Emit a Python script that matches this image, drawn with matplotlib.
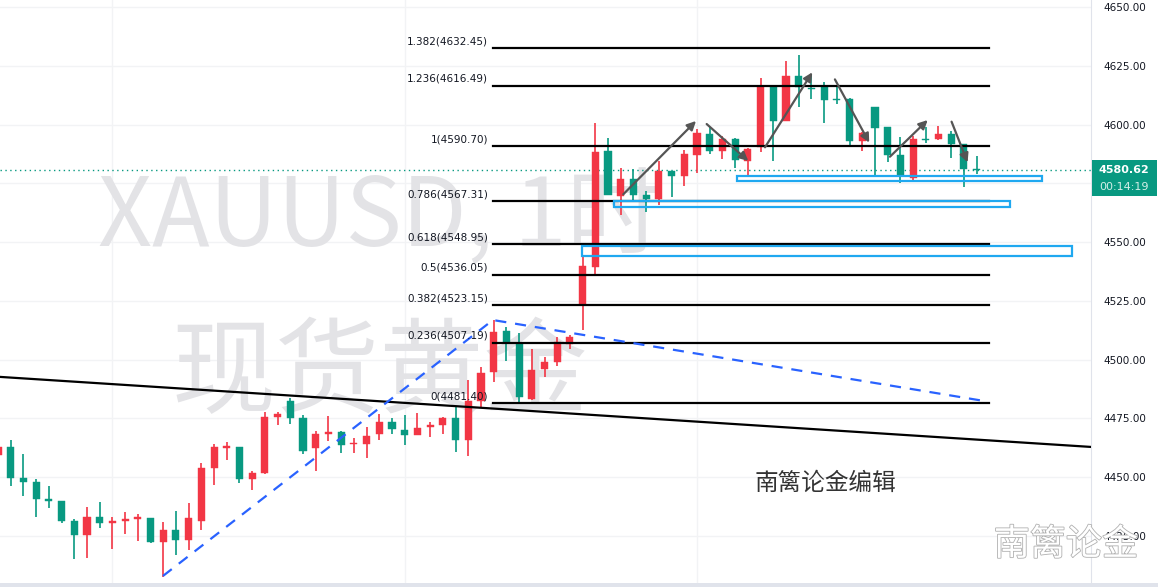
"""
XAUUSD 1h candles with Fibonacci levels, support boxes and trend lines.
"""

import numpy as np
import matplotlib.pyplot as plt
from matplotlib import rcParams
from matplotlib.patches import Rectangle
from matplotlib.ticker import FuncFormatter
import matplotlib.patheffects as pe


# ------------------------------------------------ GLOBAL FONT
rcParams["font.family"] = ["DejaVu Sans", "Noto Sans CJK SC"]

CJK = ["Noto Sans CJK SC", "DejaVu Sans"]
UP_RED, DOWN_GREEN = "#f23645", "#089981"

# ============================================================ DATA
opens = [4459.5, 4462.6, 4449.6, 4447.9, 4440.6, 4439.8, 4431.3, 4425.5, 4433.0, 4430.6,
         4431.4, 4432.3, 4432.6, 4422.3, 4427.4, 4423.3, 4431.4, 4453.9, 4462.5, 4462.8,
         4449.3, 4451.7, 4475.7, 4482.2, 4475.1, 4462.5, 4468.4, 4469.2, 4464.0, 4464.2,
         4468.4, 4473.3, 4470.0, 4468.0, 4471.1, 4472.3, 4475.2, 4465.9, 4482.2, 4494.8,
         4512.1, 4506.6, 4483.2, 4495.8, 4499.1, 4506.6, 4523.2, 4539.5, 4588.7, 4569.7,
         4576.8, 4570.0, 4568.3, 4580.2, 4578.2, 4587.2, 4596.1, 4588.8, 4593.8, 4584.6,
         4590.3, 4615.8, 4601.6, 4620.6, 4615.5, 4615.8, 4610.7, 4610.8, 4593.1, 4607.5,
         4598.9, 4587.0, 4577.1, 4593.8, 4593.9, 4596.0, 4591.7, 4581.2]
highs = [4463.5, 4465.7, 4459.8, 4449.0, 4446.3, 4439.8, 4432.1, 4437.1, 4439.4, 4433.1,
         4435.1, 4434.3, 4432.6, 4430.9, 4435.5, 4438.9, 4455.9, 4464.0, 4464.9, 4462.8,
         4452.7, 4477.7, 4477.7, 4483.6, 4476.4, 4469.6, 4476.0, 4469.6, 4466.6, 4471.3,
         4476.8, 4475.2, 4476.3, 4477.1, 4473.3, 4475.7, 4479.9, 4491.3, 4496.9, 4516.8,
         4513.8, 4511.1, 4504.3, 4501.2, 4509.7, 4510.3, 4543.7, 4600.8, 4594.1, 4581.5,
         4580.9, 4571.7, 4584.5, 4580.2, 4589.2, 4598.0, 4599.1, 4595.1, 4594.4, 4589.9,
         4619.9, 4616.8, 4627.0, 4629.6, 4621.3, 4618.1, 4616.1, 4611.4, 4596.7, 4607.5,
         4599.1, 4594.7, 4595.2, 4598.9, 4599.4, 4597.2, 4591.7, 4586.6]
lows = [4458.5, 4446.3, 4441.9, 4433.1, 4436.9, 4430.3, 4415.2, 4415.6, 4428.2, 4419.5,
        4425.9, 4422.9, 4422.0, 4407.6, 4416.9, 4419.1, 4427.4, 4446.7, 4457.2, 4447.6,
        4444.6, 4451.4, 4472.3, 4472.7, 4459.9, 4452.7, 4465.3, 4460.3, 4460.3, 4458.2,
        4465.9, 4468.4, 4463.7, 4468.0, 4466.9, 4468.4, 4460.8, 4459.1, 4479.9, 4490.6,
        4499.4, 4481.4, 4482.9, 4492.4, 4497.4, 4504.5, 4512.6, 4536.0, 4570.0, 4561.5,
        4567.6, 4562.8, 4565.6, 4569.3, 4574.0, 4579.2, 4587.6, 4585.3, 4581.6, 4578.1,
        4588.4, 4584.6, 4601.6, 4607.6, 4610.7, 4600.8, 4608.6, 4591.4, 4588.7, 4578.1,
        4584.2, 4575.2, 4576.4, 4592.0, 4593.4, 4585.6, 4573.5, 4578.8]
closes = [4462.6, 4449.7, 4448.0, 4440.8, 4439.9, 4431.4, 4425.5, 4433.0, 4430.6, 4431.3,
          4432.1, 4433.0, 4422.3, 4427.4, 4423.3, 4432.6, 4453.8, 4462.8, 4463.3, 4449.3,
          4451.7, 4475.5, 4476.8, 4475.2, 4461.2, 4468.3, 4469.2, 4463.8, 4464.5, 4467.4,
          4473.4, 4470.3, 4468.0, 4470.8, 4472.1, 4475.2, 4465.9, 4482.2, 4494.3, 4511.7,
          4507.5, 4484.1, 4495.5, 4498.9, 4507.5, 4509.5, 4539.9, 4588.4, 4570.0, 4576.8,
          4570.0, 4568.4, 4580.2, 4578.2, 4587.5, 4596.5, 4588.8, 4593.8, 4585.0, 4589.6,
          4615.8, 4601.6, 4620.8, 4615.8, 4615.0, 4610.6, 4610.3, 4593.1, 4596.3, 4598.6,
          4587.0, 4578.1, 4593.8, 4593.4, 4596.0, 4591.7, 4581.2, 4580.62]
last_price = 4580.62
countdown = "00:14:19"

fib_ratio = ["1.382", "1.236", "1", "0.786", "0.618", "0.5", "0.382", "0.236", "0"]
fib_price = [4632.45, 4616.49, 4590.70, 4567.31, 4548.95, 4536.05, 4523.15, 4507.19, 4481.40]

# support boxes (bar index span, price span)
zone_left  = [58.14, 48.44, 45.95]
zone_right = [82.14, 79.62, 84.50]
zone_low   = [4576.1, 4565.0, 4544.0]
zone_high  = [4578.1, 4567.3, 4548.3]

# long black trend line and blue dashed swing lines
trend_x = [0.16, 86.0]
trend_y = [4492.6, 4462.8]
swing_x = [12.98, 38.94, 77.65]
swing_y = [4407.9, 4516.8, 4482.3]

# hand-drawn arrows: (x0, y0) -> (x1, y1)
arrow_x0 = [49.2, 55.76, 60.35, 65.85, 70.18, 75.03]
arrow_y0 = [4570.3, 4600.2, 4590.3, 4619.2, 4586.3, 4601.2]
arrow_x1 = [54.92, 59.03, 64.07, 68.55, 73.15, 76.29]
arrow_y1 = [4601.5, 4584.5, 4622.2, 4592.3, 4601.9, 4583.9]

day_breaks = [9, 32, 55]
y_ticks = np.arange(4425, 4651, 25)


# ============================================================ FIGURE
W, H = 1158, 587
fig = plt.figure(figsize=(W / 100, H / 100), dpi=100)
fig.patch.set_facecolor("white")
ax = fig.add_axes([0, 4 / H, 1091 / W, 583 / H])
ax.set_xlim(0.157, 86.0)
ax.set_ylim(4404.9, 4652.98)

# grid
for yt in y_ticks:
    ax.axhline(yt, color="#f2f3f5", lw=1, zorder=0.2)
for xb in day_breaks:
    ax.axvline(xb, color="#f2f3f5", lw=1, zorder=0.2)

# watermarks
ax.text(0.3483, 0.625, "XAUUSD, 1时", transform=ax.transAxes, ha="center", va="center",
        fontsize=68, color="#e3e3e6", family=CJK, zorder=0.5)
ax.text(0.3483, 0.355, "现货黄金", transform=ax.transAxes, ha="center", va="center",
        fontsize=75, color="#e3e3e6", family=CJK, zorder=0.5)

# candles
xs = np.arange(len(opens))
for i in xs:
    o, h, l, c = opens[i], highs[i], lows[i], closes[i]
    col = UP_RED if c >= o else DOWN_GREEN
    ax.vlines(i, l, h, color=col, lw=1.2, zorder=3)
    lo, hi = min(o, c), max(o, c)
    ax.add_patch(Rectangle((i - 0.28, lo), 0.56, max(hi - lo, 0.35),
                           facecolor=col, edgecolor=col, lw=0.3, zorder=3))

# fibonacci levels
for r, p in zip(fib_ratio, fib_price):
    ax.plot([38.94, 77.97], [p, p], color="black", lw=1.6, zorder=4)
    ax.annotate(f"{r}({p:.2f})", xy=(38.63, p), xytext=(-0.5, 5), textcoords="offset points",
                ha="right", va="center", fontsize=7.5, color="#131722", zorder=6)

# support boxes
for x0, x1, lo, hi in zip(zone_left, zone_right, zone_low, zone_high):
    ax.add_patch(Rectangle((x0, lo), x1 - x0, hi - lo, fill=False,
                           edgecolor="#1fa8f0", lw=1.6, zorder=5))

# trend lines
ax.plot(trend_x, trend_y, color="black", lw=1.6, zorder=4)
ax.plot(swing_x, swing_y, color="#2962ff", lw=1.6, ls=(0, (5, 4)), zorder=4)

# arrows
for x0, y0, x1, y1 in zip(arrow_x0, arrow_y0, arrow_x1, arrow_y1):
    ax.annotate("", xy=(x1, y1), xytext=(x0, y0),
                arrowprops=dict(arrowstyle="-|>", color="#555555", lw=1.6,
                                mutation_scale=13, shrinkA=0, shrinkB=0), zorder=6)

# last price line
ax.axhline(last_price, color=DOWN_GREEN, lw=1, ls=(0, (1, 2.5)), zorder=2)

ax.text(0.7562, 0.1715, "南篱论金编辑", transform=ax.transAxes, ha="center", va="center",
        fontsize=17, color="#333333", family=CJK, zorder=7)

# axes styling
ax.set_xticks([])
ax.yaxis.tick_right()
ax.set_yticks(y_ticks)
ax.yaxis.set_major_formatter(FuncFormatter(lambda v, _: f"{v:.2f}"))
ax.tick_params(axis="y", length=0, pad=9, labelsize=7.5, labelcolor="#131722")
for s in ("top", "left", "bottom"):
    ax.spines[s].set_visible(False)
ax.spines["right"].set_color("#e0e3eb")

# bottom strip (time axis border)
fig.patches.append(Rectangle((0, 0), 1, 4 / H, transform=fig.transFigure,
                             facecolor="#e0e3eb", edgecolor="none"))

# last price tag
fig.patches.append(Rectangle((1092 / W, 1 - 196 / H), 65 / W, 36 / H, transform=fig.transFigure,
                             facecolor=DOWN_GREEN, edgecolor="none", zorder=5))
fig.text(1124 / W, 1 - 170 / H, f"{last_price:.2f}", ha="center", va="center",
         fontsize=8, color="white", fontweight="bold", zorder=6)
fig.text(1124 / W, 1 - 187 / H, countdown, ha="center", va="center",
         fontsize=8, color="#d4efe8", zorder=6)

# corner watermark
fig.text(1066 / W, 1 - 545 / H, "南篱论金", ha="center", va="center", fontsize=26,
         color="white", family=CJK, zorder=10,
         path_effects=[pe.withStroke(linewidth=1.2, foreground="#b0b0b0")])

fig.savefig("out.png", dpi=100)
